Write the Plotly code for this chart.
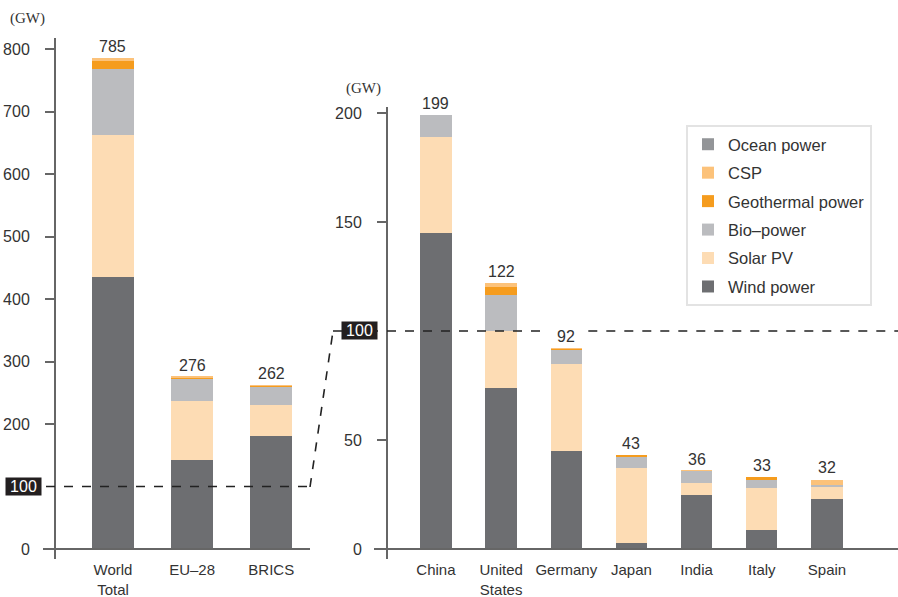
import plotly.graph_objects as go

W, H = 898, 597

# ---------------- data ----------------
regions = ["World<br>Total", "EU–28", "BRICS"]
countries = ["China", "United<br>States", "Germany", "Japan", "India", "Italy", "Spain"]

series_names = ["Wind power", "Solar PV", "Bio–power", "Geothermal power", "CSP", "Ocean power"]
series_colors = ["#6d6e71", "#fddcb4", "#bbbcbf", "#f59c1e", "#fcc27a", "#939598"]

region_vals = {
    "Wind power":       [435, 142, 181],
    "Solar PV":         [227, 95, 49],
    "Bio–power":        [106, 36, 30],
    "Geothermal power": [13, 1, 1],
    "CSP":              [4, 2, 1],
    "Ocean power":      [0, 0, 0],
}
region_totals = [785, 276, 262]

country_vals = {
    "Wind power":       [145, 74, 45, 2.8, 24.8, 8.7, 23],
    "Solar PV":         [44, 26, 39.7, 34.4, 5.5, 19.3, 5.4],
    "Bio–power":        [10, 16.5, 7, 5.2, 5.5, 4.1, 1],
    "Geothermal power": [0, 3.8, 0.1, 0.5, 0, 0.9, 0],
    "CSP":              [0, 1.7, 0.3, 0, 0.3, 0, 2.3],
    "Ocean power":      [0, 0, 0, 0, 0, 0, 0],
}
country_totals = [199, 122, 92, 43, 36, 33, 32]

left_ticks = [0, 200, 300, 400, 500, 600, 700, 800]
right_ticks = [0, 50, 150, 200]
threshold = 100

# ---------------- helpers ----------------
def px(x):
    return x / W

def py(y):
    return 1 - y / H

FONT = "Liberation Sans, Arial, sans-serif"
TXT = "#333333"
AX = "#666666"

X2_DOM_PX = (388, 898)
X2_RANGE = (-0.736, 7.09)

def x2_cat_px(i):
    return X2_DOM_PX[0] + (i - X2_RANGE[0]) / (X2_RANGE[1] - X2_RANGE[0]) * (X2_DOM_PX[1] - X2_DOM_PX[0])

fig = go.Figure()

n = len(series_names)
for k, (name, col) in enumerate(zip(series_names, series_colors)):
    fig.add_trace(go.Bar(
        x=regions, y=region_vals[name], name=name, marker=dict(color=col, line=dict(width=0)),
        xaxis="x", yaxis="y", legendgroup=name, showlegend=True, width=0.53,
        legendrank=n - k,
    ))
    fig.add_trace(go.Bar(
        x=countries, y=country_vals[name], name=name, marker=dict(color=col, line=dict(width=0)),
        xaxis="x2", yaxis="y2", legendgroup=name, showlegend=False, width=0.48,
        legendrank=n - k,
    ))

# value labels
annotations = []
for c, t in zip(regions, region_totals):
    annotations.append(dict(x=c, y=t, xref="x", yref="y", text=str(t), showarrow=False,
                            yanchor="bottom", yshift=1, font=dict(size=16, color=TXT, family=FONT)))
gaps = []
for i, (c, t) in enumerate(zip(countries, country_totals)):
    annotations.append(dict(x=c, y=t, xref="x2", yref="y2", text=str(t), showarrow=False,
                            yanchor="bottom", yshift=1, font=dict(size=16, color=TXT, family=FONT)))
    if t < threshold < t + 12:
        cx = x2_cat_px(i)
        gaps.append((cx - 18, cx + 22))

# unit labels
annotations.append(dict(x=px(8), y=py(18), xref="paper", yref="paper", text="(GW)", showarrow=False,
                        xanchor="left", yanchor="middle",
                        font=dict(size=15, color=TXT, family="Liberation Serif, serif")))
annotations.append(dict(x=px(344), y=py(88), xref="paper", yref="paper", text="(GW)", showarrow=False,
                        xanchor="left", yanchor="middle",
                        font=dict(size=15, color=TXT, family="Liberation Serif, serif")))

# threshold boxes
annotations.append(dict(x=px(23.5), y=threshold, xref="paper", yref="y", text=str(threshold),
                        showarrow=False, bgcolor="#231f20", width=33, height=15,
                        xanchor="center", yanchor="middle",
                        font=dict(size=16, color="white", family=FONT)))
annotations.append(dict(x=px(359.5), y=threshold, xref="paper", yref="y2", text=str(threshold),
                        showarrow=False, bgcolor="#231f20", width=33, height=15,
                        xanchor="center", yanchor="middle",
                        font=dict(size=16, color="white", family=FONT)))

# shapes: baselines and dashed connector
DASH = dict(color="#222222", width=1.6, dash="dash")
shapes = [
    dict(type="line", xref="paper", yref="y", x0=px(43), x1=px(310), y0=0, y1=0,
         line=dict(color=AX, width=2), layer="above"),
    dict(type="line", xref="paper", yref="y2", x0=px(374), x1=px(898), y0=0, y1=0,
         line=dict(color=AX, width=2), layer="above"),
    dict(type="line", xref="paper", yref="y", x0=px(46), x1=px(310), y0=threshold, y1=threshold,
         line=DASH, layer="above"),
    dict(type="line", xref="paper", yref="paper", x0=px(310), x1=px(333), y0=py(487), y1=py(331),
         line=DASH, layer="above"),
]
start = 333
for g0, g1 in gaps:
    shapes.append(dict(type="line", xref="paper", yref="y2", x0=px(start), x1=px(g0),
                       y0=threshold, y1=threshold, line=DASH, layer="above"))
    start = g1
shapes.append(dict(type="line", xref="paper", yref="y2", x0=px(start), x1=px(898),
                   y0=threshold, y1=threshold, line=DASH, layer="above"))

fig.update_layout(
    width=W, height=H, margin=dict(l=0, r=0, t=0, b=0),
    paper_bgcolor="white", plot_bgcolor="white",
    barmode="stack", bargap=0,
    font=dict(family=FONT, color=TXT, size=16),
    annotations=annotations, shapes=shapes,
    xaxis=dict(domain=[px(56), px(310)], range=[-0.72, 2.49], showline=False, ticks="",
               showgrid=False, zeroline=False, tickfont=dict(size=15, color=TXT, family=FONT),
               ticklabelstandoff=0, anchor="y", automargin=False),
    yaxis=dict(domain=[py(559), py(38)], range=[-16, 817.6], tickvals=left_ticks,
               showline=True, linecolor=AX, linewidth=2, ticks="outside", ticklen=9, tickwidth=1.5,
               tickcolor=AX, showgrid=False, zeroline=False, ticklabelstandoff=12,
               tickfont=dict(size=16, color=TXT, family=FONT), anchor="x", automargin=False),
    xaxis2=dict(domain=[px(X2_DOM_PX[0]), px(X2_DOM_PX[1])], range=list(X2_RANGE), showline=False,
                ticks="", showgrid=False, zeroline=False,
                tickfont=dict(size=15, color=TXT, family=FONT),
                ticklabelstandoff=0, anchor="y2", automargin=False),
    yaxis2=dict(domain=[py(559), py(107)], range=[-4.59, 202.75], tickvals=right_ticks,
                showline=True, linecolor=AX, linewidth=2, ticks="outside", ticklen=9, tickwidth=1.5,
                tickcolor=AX, showgrid=False, zeroline=False, ticklabelstandoff=12,
                tickfont=dict(size=16, color=TXT, family=FONT), anchor="x2", automargin=False),
    legend=dict(x=px(686), y=py(125), xanchor="left", yanchor="top", traceorder="grouped",
                bordercolor="#e3e3e3", borderwidth=2, bgcolor="white",
                font=dict(size=16.5, color=TXT, family=FONT), tracegroupgap=4,
                itemwidth=30),
)

fig.write_html("out.html", post_script="document.body.style.margin='0';",
               config={"displayModeBar": False})
